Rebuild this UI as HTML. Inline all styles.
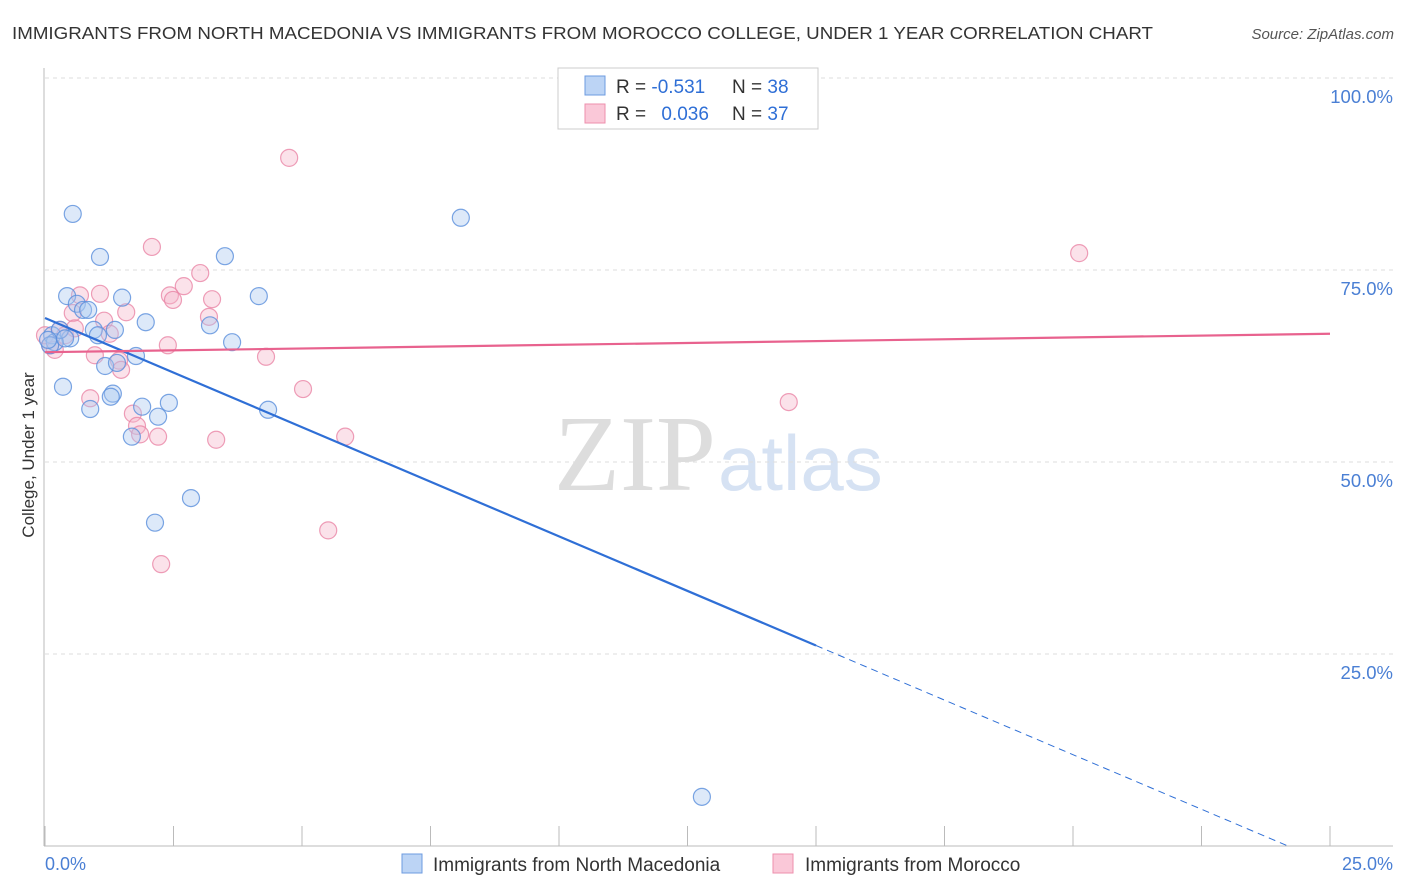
<!DOCTYPE html>
<html><head><meta charset="utf-8"><style>
body{margin:0;background:#fff;font-family:"Liberation Sans",sans-serif}
svg{display:block}
</style></head><body>
<svg id="chart" width="1406" height="892">
<text x="12" y="39" font-size="17.5" fill="#333" textLength="1141" lengthAdjust="spacingAndGlyphs">IMMIGRANTS FROM NORTH MACEDONIA VS IMMIGRANTS FROM MOROCCO COLLEGE, UNDER 1 YEAR CORRELATION CHART</text>
<text x="1394" y="39" font-size="15" fill="#555" font-style="italic" text-anchor="end">Source: ZipAtlas.com</text>
<text x="716" y="490" font-size="108" fill="#ddd" font-family="Liberation Serif,serif" text-anchor="end">ZIP</text>
<text x="718" y="490" font-size="78" fill="#d6e2f3">atlas</text>
<g id="grid"></g><g id="axes"></g><g id="pts"></g><g id="trend"></g>
<text transform="translate(34,455) rotate(-90)" font-size="17" fill="#333" text-anchor="middle">College, Under 1 year</text>
<text x="45" y="870" font-size="18" fill="#4a7fd4">0.0%</text>
<text x="1393" y="870" font-size="18" fill="#4a7fd4" text-anchor="end">25.0%</text>
<g>
<rect x="558" y="68" width="260" height="61" fill="#fff" stroke="#ccc"/>
<rect x="585" y="76" width="20" height="19" fill="#bcd4f5" stroke="#6d9be0"/>
<rect x="585" y="104" width="20" height="19" fill="#fac8d8" stroke="#ee8fad"/>
<text x="616" y="93" font-size="19" fill="#333">R = <tspan fill="#2f6fd6">-0.531</tspan></text>
<text x="732" y="93" font-size="19" fill="#333">N = <tspan fill="#2f6fd6">38</tspan></text>
<text x="616" y="120" font-size="19" fill="#333">R = <tspan fill="#2f6fd6" dx="10">0.036</tspan></text>
<text x="732" y="120" font-size="19" fill="#333">N = <tspan fill="#2f6fd6">37</tspan></text>
</g>
<g>
<rect x="402" y="854" width="20" height="19" fill="#bcd4f5" stroke="#6d9be0"/>
<text x="433" y="871" font-size="19" fill="#333">Immigrants from North Macedonia</text>
<rect x="773" y="854" width="20" height="19" fill="#fac8d8" stroke="#ee8fad"/>
<text x="805" y="871" font-size="19" fill="#333">Immigrants from Morocco</text>
</g>
</svg>
<script>
const blueX=[0.54,1.07,3.50,8.09,0.43,1.50,4.16,0.62,0.74,1.96,3.21,0.95,1.36,1.03,0.49,0.14,0.19,0.10,3.64,1.77,1.17,1.40,0.35,1.32,1.28,0.88,1.89,2.41,2.20,4.34,1.69,2.84,2.14,12.78,0.84,0.29,0.06,0.39];
const blueY=[82.3,76.7,76.8,81.8,71.6,71.4,71.6,70.6,69.8,68.2,67.8,67.2,67.2,66.5,66.1,66.5,65.6,65.2,65.6,63.8,62.5,62.9,59.8,58.9,58.5,56.9,57.2,57.7,55.9,56.8,53.3,45.3,42.1,6.4,69.8,67.2,65.9,66.1];
const pinkX=[4.75,2.08,20.12,3.02,2.70,0.68,1.07,2.43,2.49,3.25,1.58,3.19,1.15,0.54,1.26,2.39,4.30,0.97,1.44,1.48,5.02,14.47,0.88,1.71,1.79,2.20,1.85,3.33,5.84,5.51,2.26,0.29,0.10,0.39,0.58,0.0,0.19];
const pinkY=[89.6,78.0,77.2,74.6,72.9,71.7,71.9,71.7,71.1,71.2,69.5,68.9,68.4,69.4,66.7,65.2,63.7,63.9,63.2,62.0,59.5,57.8,58.3,56.3,54.7,53.3,53.6,52.9,53.3,41.1,36.7,67.2,65.2,66.5,67.4,66.5,64.6];
const yTicks=[25,50,75,100];
const xTicks=[0,2.5,5,7.5,10,12.5,15,17.5,20,22.5,25];
const blueTrend=[68.75,-2.843]; // intercept, slope
const pinkTrend=[64.3,0.096];
const blueSolidEnd=15;

const NS='http://www.w3.org/2000/svg';
const sx=v=>45+v/25*1285, sy=v=>846-v/100*768;
function mk(t,a,p){const e=document.createElementNS(NS,t);for(const k in a)e.setAttribute(k,a[k]);p.appendChild(e);return e;}
const grid=document.getElementById('grid'),axes=document.getElementById('axes'),pts=document.getElementById('pts'),tr=document.getElementById('trend');
yTicks.forEach(v=>{
 const l=mk('line',{x1:45,x2:1393,y1:sy(v),y2:sy(v),stroke:'#ddd','stroke-dasharray':'4,4'},grid);
 
 
 const t=mk('text',{x:1393,y:sy(v)+25,'font-size':18.5,fill:'#4a7fd4','text-anchor':'end'},grid);
 t.textContent=v.toFixed(1)+'%';
 
 
});
let ya=mk('line',{x1:44,x2:44,y1:68,y2:846,stroke:'#bbb'},axes);


let xa=mk('line',{x1:44,x2:1393,y1:846,y2:846,stroke:'#bbb'},axes);


xTicks.forEach(v=>{
 const l=mk('line',{x1:sx(v),x2:sx(v),y1:826,y2:846,stroke:'#bbb'},axes);
 
 
});
function dots(X,Y,fill,stroke,name){X.forEach((x,i)=>{
 const c=mk('circle',{cx:sx(x),cy:sy(Y[i]),r:8.5,fill:fill,'fill-opacity':0.4,stroke:stroke,'stroke-width':1.2,'stroke-opacity':0.8},pts);
 
 
});}
dots(pinkX,pinkY,'#f6b6cb','#ea86a6','point-morocco');
dots(blueX,blueY,'#a9c8f0','#5a8fdc','point-macedonia');
const bf=x=>blueTrend[0]+blueTrend[1]*x, pf=x=>pinkTrend[0]+pinkTrend[1]*x;
let b1=mk('line',{x1:sx(0),y1:sy(bf(0)),x2:sx(blueSolidEnd),y2:sy(bf(blueSolidEnd)),stroke:'#2f6fd6','stroke-width':2.2},tr);


const xe=-blueTrend[0]/blueTrend[1];
let b2=mk('line',{x1:sx(blueSolidEnd),y1:sy(bf(blueSolidEnd)),x2:sx(xe),y2:sy(0),stroke:'#2f6fd6','stroke-width':1,'stroke-dasharray':'7,5'},tr);


let p1=mk('line',{x1:sx(0),y1:sy(pf(0)),x2:sx(25),y2:sy(pf(25)),stroke:'#e8628e','stroke-width':2.2},tr);


</script>
</body></html>
